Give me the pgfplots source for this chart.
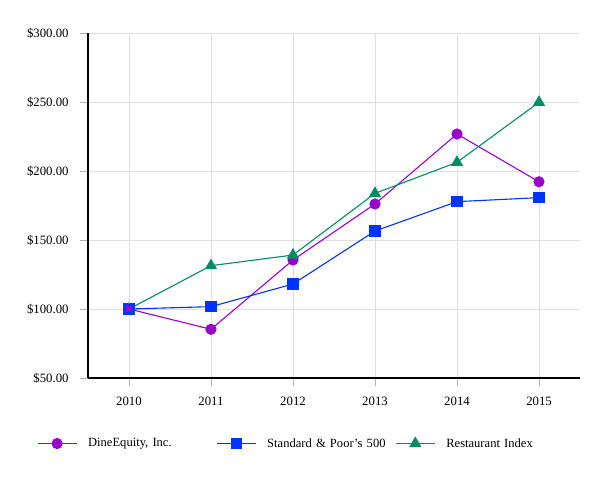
\documentclass[border=0pt]{standalone}
\usepackage{fontspec}
\setmainfont{Liberation Serif}
\usepackage{pgfplots}
\pgfplotsset{compat=1.18}

\definecolor{dinecol}{RGB}{153,0,204}
\definecolor{spcol}{RGB}{0,51,255}
\definecolor{restcol}{RGB}{0,140,100}

\begin{document}
\begin{tikzpicture}
\begin{axis}[
  name=main,
  at={(0,0)}, anchor=south west,
  scale only axis,
  width=492bp, height=345bp,
  xmin=2009.5, xmax=2015.5,
  ymin=50, ymax=300,
  xtick={2010,2011,2012,2013,2014,2015},
  xticklabels={2010,2011,2012,2013,2014,2015},
  ytick={50,100,150,200,250,300},
  yticklabels={\$50.00,\$100.00,\$150.00,\$200.00,\$250.00,\$300.00},
  axis x line*=bottom, axis y line*=left,
  axis line style={black, line width=1.6bp, -},
  tick align=outside,
  major tick length=8bp,
  tick style={gray!60, line width=0.8bp},
  grid=major,
  major grid style={gray!25, line width=0.8bp},
  tick label style={font=\fontsize{12.8}{14}\selectfont},
  xticklabel style={yshift=-7bp},
  yticklabel style={xshift=-8bp},
  legend columns=3,
  legend style={draw=none, fill=none, at={(axis description cs:-0.11,-0.19)}, anchor=west,
    font=\fontsize{12.6}{14}\selectfont, column sep=0bp},
  legend cell align=left,
  legend image code/.code={\draw[mark repeat=2,mark phase=2] plot coordinates {(0bp,0bp)(19.5bp,0bp)(39bp,0bp)};},
  every axis plot/.append style={line width=1.1bp},
  /tikz/every odd column/.append style={column sep=9bp},
  /tikz/every even column/.append style={text width=126bp},
]
\addplot[color=dinecol, mark=*, mark size=5bp, mark options={solid, fill=dinecol}] coordinates {
(2010,100) (2011,85.3) (2012,135.5) (2013,176.1) (2014,226.8) (2015,192.2)};
\addlegendentry{DineEquity, Inc.}
\addplot[color=spcol, mark=square*, mark size=5bp, mark options={solid, fill=spcol}] coordinates {
(2010,100) (2011,101.7) (2012,118.1) (2013,156.5) (2014,177.8) (2015,180.7)};
\addlegendentry{Standard \& Poor's 500}
\addplot[color=restcol, mark=triangle*, mark size=6bp, mark options={solid, fill=restcol}] coordinates {
(2010,100) (2011,131.4) (2012,139.1) (2013,183.8) (2014,206.3) (2015,249.8)};
\addlegendentry{Restaurant Index}
% the 2010 point: purple square with a blue edge, as in the reference
\addplot[color=dinecol, only marks, mark=square*, mark size=4bp, mark options={fill=dinecol, draw=spcol}, forget plot] coordinates {(2010,100)};
\end{axis}
\path[use as bounding box] (-88bp,-102bp) rectangle (525bp,378bp);
\end{tikzpicture}
\end{document}
